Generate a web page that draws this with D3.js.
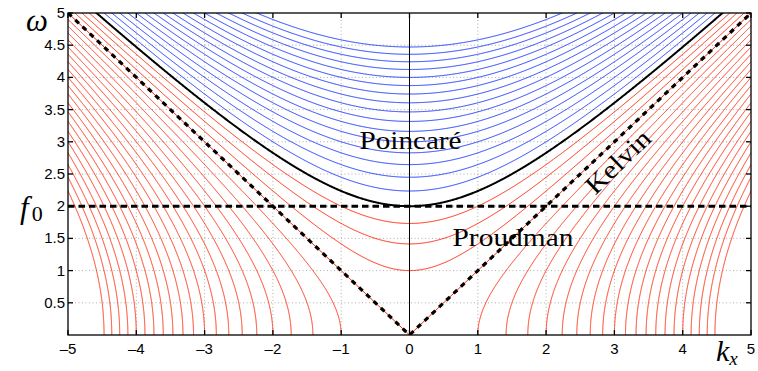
<!DOCTYPE html>
<html>
<head>
<meta charset="utf-8">
<script src="https://cdn.jsdelivr.net/npm/d3@7"></script>
<style>
  html, body { margin: 0; padding: 0; background: #fff; }
  svg { display: block; }
</style>
</head>
<body>
<svg id="chart" width="758" height="371"></svg>
<script>
// Shallow-water dispersion diagram in a channel: omega^2 = f0^2 + kx^2 +/- m
const f0 = 2;
const xTicks = [-5, -4, -3, -2, -1, 0, 1, 2, 3, 4, 5];
const yTicks = [0.5, 1, 1.5, 2, 2.5, 3, 3.5, 4, 4.5, 5];
const yTickLabels = ["0.5", "1", "1.5", "2", "2.5", "3", "3.5", "4", "4.5", "5"];
// cross-channel wavenumber squared of the Poincaré modes (oscillatory)
const poincareModes = [1, 2, 3, 4, 5, 6, 7, 8, 9, 10, 11, 12, 13, 14, 15, 16];
// decay rate squared of the trapped modes (evanescent across the channel)
const trappedModes = [1, 2, 3, 4, 5, 6, 7, 8, 9, 10, 11, 12, 13, 14, 15, 16,
                      17, 18, 19, 20, 21, 22, 23, 24];

const PL = 68, PR = 751, PT = 13, PB = 335;
const svg = d3.select("#chart");

const x = d3.scaleLinear().domain([-5, 5]).range([PL, PR]);
const y = d3.scaleLinear().domain([0, 5]).range([PB, PT]);

const RED = "#ff2a0a", BLUE = "#1f3cff";

svg.append("defs").append("clipPath").attr("id", "plot")
  .append("rect").attr("x", PL).attr("y", PT)
  .attr("width", PR - PL).attr("height", PB - PT);

// dotted grid
const grid = svg.append("g").attr("stroke", "#9a9a9a").attr("stroke-width", 0.8)
  .attr("stroke-dasharray", "1,2.5");
grid.selectAll("line.v").data(xTicks.slice(1, -1)).join("line").attr("class", "v")
  .attr("x1", d => x(d)).attr("x2", d => x(d)).attr("y1", PT).attr("y2", PB);
grid.selectAll("line.h").data(yTicks.slice(0, -1)).join("line").attr("class", "h")
  .attr("x1", PL).attr("x2", PR).attr("y1", d => y(d)).attr("y2", d => y(d));

const plot = svg.append("g").attr("clip-path", "url(#plot)");
const line = d3.line().x(d => x(d[0])).y(d => y(d[1]));
const kxs = d3.range(-5, 5.0001, 0.01);

// curve omega(kx) for a given constant c in omega^2 = kx^2 + c
function branches(c) {
  if (c > 0) {
    return [kxs.map(k => [k, Math.sqrt(k * k + c)])];
  }
  if (c === 0) {
    return [[[-5, 5], [0, 0], [5, 5]]];
  }
  // open branches starting at omega = 0, kx = +/- sqrt(-c)
  const wMax = Math.sqrt(25 + c) + 0.05;
  const ws = d3.range(0, wMax + 0.6, 0.005);
  const pos = ws.map(w => [Math.sqrt(w * w - c), w]);
  const neg = pos.map(p => [-p[0], p[1]]);
  return [pos, neg];
}

// trapped (red) modes
trappedModes.forEach(m => {
  branches(f0 * f0 - m).forEach(pts => {
    plot.append("path").attr("d", line(pts))
      .attr("fill", "none").attr("stroke", RED).attr("stroke-width", 1);
  });
});

// Poincaré (blue) modes
poincareModes.forEach(m => {
  branches(f0 * f0 + m).forEach(pts => {
    plot.append("path").attr("d", line(pts))
      .attr("fill", "none").attr("stroke", BLUE).attr("stroke-width", 1);
  });
});

// lowest Poincaré cutoff curve omega^2 = f0^2 + kx^2
plot.append("path").attr("d", line(branches(f0 * f0)[0]))
  .attr("fill", "none").attr("stroke", "#000").attr("stroke-width", 2);

// zero wavenumber axis
svg.append("line").attr("x1", x(0)).attr("x2", x(0)).attr("y1", PT).attr("y2", PB)
  .attr("stroke", "#000").attr("stroke-width", 1);

// Kelvin wave lines omega = |kx| and inertial frequency f0
plot.append("path").attr("d", line([[-5, 5], [0, 0], [5, 5]]))
  .attr("fill", "none").attr("stroke", "#000").attr("stroke-width", 3.2)
  .attr("stroke-dasharray", "5,5");
plot.append("line").attr("x1", PL).attr("x2", PR).attr("y1", y(f0)).attr("y2", y(f0))
  .attr("stroke", "#000").attr("stroke-width", 3)
  .attr("stroke-dasharray", "6.5,4");

// axes box with inward ticks on all sides
const ax = svg.append("g").attr("stroke", "#000").attr("stroke-width", 1.3);
ax.append("rect").attr("x", PL).attr("y", PT).attr("width", PR - PL)
  .attr("height", PB - PT).attr("fill", "none");
const tl = 5;
xTicks.forEach(t => {
  ax.append("line").attr("x1", x(t)).attr("x2", x(t)).attr("y1", PB).attr("y2", PB - tl);
  ax.append("line").attr("x1", x(t)).attr("x2", x(t)).attr("y1", PT).attr("y2", PT + tl);
});
yTicks.forEach(t => {
  ax.append("line").attr("x1", PL).attr("x2", PL + tl).attr("y1", y(t)).attr("y2", y(t));
  ax.append("line").attr("x1", PR).attr("x2", PR - tl).attr("y1", y(t)).attr("y2", y(t));
});

// tick labels
const tickFont = "'Liberation Sans', Arial, sans-serif";
svg.append("g").selectAll("text").data(xTicks).join("text")
  .attr("x", d => x(d)).attr("y", 354)
  .attr("text-anchor", "middle")
  .attr("font-family", tickFont).attr("font-size", 15)
  .text(d => d < 0 ? "\u2013" + Math.abs(d) : String(d));
svg.append("g").selectAll("text").data(yTicks).join("text")
  .attr("x", PL - 3).attr("y", d => y(d) + 5)
  .attr("text-anchor", "end")
  .attr("font-family", tickFont).attr("font-size", 15)
  .text((d, i) => yTickLabels[i]);

// math symbols and region names
const serif = "'Liberation Serif', 'DejaVu Serif', serif";
svg.append("text").attr("x", 26).attr("y", 31)
  .attr("font-family", serif).attr("font-style", "italic").attr("font-size", 31)
  .text("\u03C9");
const f0Label = svg.append("text").attr("x", 20).attr("y", 218)
  .attr("font-family", serif).attr("font-style", "italic").attr("font-size", 31);
f0Label.append("tspan").text("f");
f0Label.append("tspan").attr("font-style", "normal").attr("font-size", 22).attr("dx", 3).attr("dy", 3).text("0");
const kxLabel = svg.append("text").attr("x", 716).attr("y", 361)
  .attr("font-family", serif).attr("font-style", "italic").attr("font-size", 30);
kxLabel.append("tspan").text("k");
kxLabel.append("tspan").attr("font-size", 19).attr("dy", 4).text("x");

svg.append("text").attr("x", x(0) + 1).attr("y", 149)
  .attr("text-anchor", "middle")
  .attr("font-family", serif).attr("font-size", 26)
  .attr("textLength", 102).attr("lengthAdjust", "spacingAndGlyphs")
  .text("Poincaré");
svg.append("text").attr("x", 513).attr("y", 246)
  .attr("text-anchor", "middle")
  .attr("font-family", serif).attr("font-size", 26)
  .attr("textLength", 121).attr("lengthAdjust", "spacingAndGlyphs")
  .text("Proudman");
svg.append("text").attr("transform", "translate(624,168) rotate(-44)")
  .attr("text-anchor", "middle")
  .attr("font-family", serif).attr("font-size", 26)
  .attr("textLength", 80).attr("lengthAdjust", "spacingAndGlyphs")
  .text("Kelvin");
</script>
</body>
</html>
